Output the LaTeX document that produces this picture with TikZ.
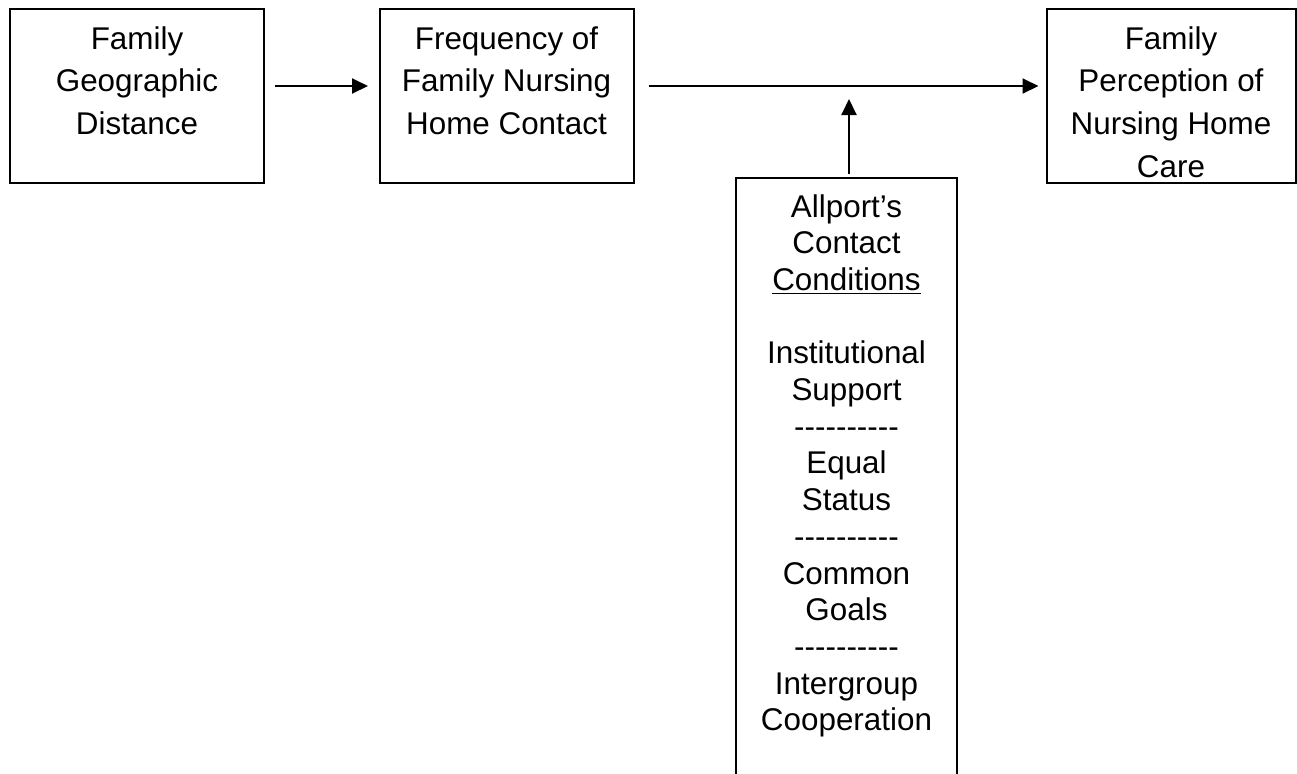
\documentclass[tikz,border=0pt]{standalone}
\usepackage{fontspec}
\newfontfamily\boxfont{Liberation Sans}
\usetikzlibrary{arrows.meta,positioning}

\newcommand{\boxtext}[3]{\parbox[c][#2][t]{#1}{\centering\rule{0pt}{20pt}#3}}
\newcommand{\dashrow}{-\kern0pt-\kern0pt-\kern0pt-\kern0pt-\kern0pt-\kern0pt-\kern0pt-\kern0pt-\kern0pt-}

\begin{document}
\begin{tikzpicture}[
    block/.style={draw, line width=1pt, inner sep=0pt, outer sep=0pt,
      font=\boxfont\fontsize{15.7}{21.35}\selectfont},
    tall/.style={font=\boxfont\fontsize{15.7}{18.35}\selectfont},
    >={Triangle[length=8pt,width=7.5pt]}, line width=1pt]
  \clip (-5pt,4.5pt) rectangle (643.5pt,-382pt);
  \node [block, anchor=north west] (distance) at (0,0)
    {\boxtext{127pt}{87pt}{Family\\Geographic\\Distance}};
  \node [block] (contact) [right=57.75pt of distance]
    {\boxtext{127pt}{87pt}{Frequency of\\Family Nursing\\Home Contact}};
  \node [block] (perception) [right=206.5pt of contact]
    {\boxtext{124.5pt}{87pt}{Family\\Perception of\\Nursing Home\\Care}};
  \node [block, tall, anchor=north] (conditions) at (418.25pt,-84.5pt)
    {\parbox[c][330pt][t]{110.5pt}{\centering\rule{0pt}{19.5pt}Allport’s\\Contact\\\underline{Conditions}\\\mbox{}\\
      Institutional\\Support\\\dashrow\\Equal\\Status\\\dashrow\\Common\\Goals\\\dashrow\\Intergroup\\Cooperation}};
  \coordinate (link) at ([xshift=1.25pt,yshift=5pt]contact.east -| conditions.north);
    \path[->]
    ([yshift=5pt]distance.east) edge [shorten <=5.5pt, shorten >=5.75pt] ([yshift=5pt]contact.west)
    ([yshift=5pt]contact.east) edge [shorten <=7.5pt, shorten >=4pt] ([yshift=5pt]perception.west)
    ([xshift=1.25pt]conditions.north) edge [shorten <=2pt, shorten >=6.5pt] (link);
\end{tikzpicture}
\end{document}
